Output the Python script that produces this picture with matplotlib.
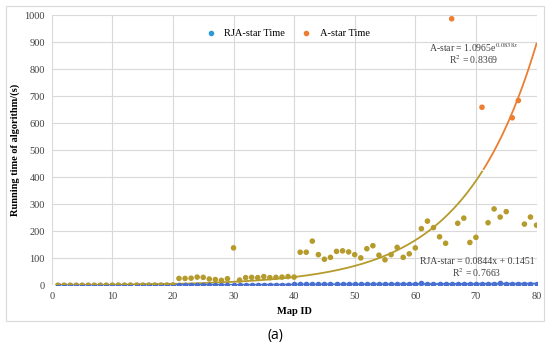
import matplotlib.pyplot as plt
from matplotlib.patches import Rectangle
import numpy as np

# Map IDs 1..80
map_id = list(range(1, 81))

# running time (s)
astar_time = [0.5, 0.6, 0.5, 0.7, 0.6, 0.8, 0.7, 0.9, 0.8, 1.0,
              1.1, 0.9, 1.2, 1.3, 1.1, 1.4, 1.5, 1.3, 1.6, 1.8,
              26, 26, 27, 31, 30, 24, 22, 19, 25, 139,
              20, 29, 30, 29, 33, 29, 30, 31, 33, 31,
              123, 123, 164, 114, 97, 104, 126, 128, 124, 114,
              102, 136, 147, 112, 95, 114, 141, 104, 117, 139,
              210, 238, 214, 180, 156, 986, 230, 249, 159, 178,
              659, 232, 283, 253, 273, 620, 684, 227, 253, 223]
rja_time = [0.3, 0.3, 0.4, 0.4, 0.5, 0.5, 0.6, 0.7, 0.7, 0.8,
            0.9, 1.0, 1.1, 1.2, 1.2, 1.3, 1.4, 1.5, 1.6, 1.7,
            1.9, 2.0, 2.1, 2.2, 2.3, 2.4, 2.5, 2.6, 2.7, 2.8,
            2.9, 3.0, 3.1, 3.2, 3.3, 3.4, 3.5, 3.5, 3.6, 3.7,
            3.8, 6.5, 4.0, 4.0, 4.1, 4.2, 4.3, 4.3, 4.4, 4.5,
            4.6, 4.7, 4.7, 4.8, 4.9, 5.0, 5.1, 5.1, 5.2, 5.3,
            9.5, 5.5, 5.6, 5.6, 5.7, 5.8, 5.9, 6.0, 6.0, 6.1,
            6.2, 6.3, 6.4, 9.0, 6.5, 6.6, 6.7, 6.8, 6.9, 7.0]

# trendline coefficients as printed on the chart
exp_a, exp_b = 1.0965, 0.0838
lin_m, lin_c = 0.0844, 0.1451

serif = "Liberation Serif"
gold = "#B59B2C"
orange = "#ED7D31"
blue = "#4A6FD0"

fig = plt.figure(figsize=(5.5, 3.49), dpi=100)
ax = fig.add_axes([0.094, 0.182, 0.8815, 0.775])

# outer chart border
fig.patches.append(Rectangle((5.7 / 550, 1 - 321 / 349), 538 / 550, 315 / 349,
                             transform=fig.transFigure, fill=False,
                             edgecolor="#D9D9D9", linewidth=0.8))

# faint highlight band around the RJA series
ax.fill_between([40, 80], -6, 14, color="#C8F4FA", alpha=0.7, zorder=1, lw=0)

xs = np.linspace(1, 80, 300)
ys = exp_a * np.exp(exp_b * xs)
split = ys <= 430
ax.plot(xs[split], ys[split], color=gold, lw=1.3, zorder=3)
ax.plot(xs[~split], ys[~split], color=orange, lw=1.3, zorder=3)
ax.plot(xs, lin_m * xs + lin_c, color=blue, lw=1.3, zorder=3)

ax.scatter(map_id, rja_time, s=9, color=blue, zorder=4)
a_cols = [orange if v > 430 else gold for v in astar_time]
ax.scatter(map_id, astar_time, s=9, color=a_cols, zorder=5)

# legend drawn with the legend's own colours
ax.scatter([], [], s=9, color="#2E9BD6", label="RJA-star Time")
ax.scatter([], [], s=9, color=orange, label="A-star Time")
ax.legend(loc="center", bbox_to_anchor=(0.481, 0.933), ncol=2, frameon=False,
          prop={"family": serif, "size": 7.5}, handletextpad=0.3,
          columnspacing=1.0, scatterpoints=1)

ax.set_xlim(0, 80)
ax.set_ylim(0, 1000)
ax.set_xticks(range(0, 81, 10))
ax.set_yticks(range(0, 1001, 100))
ax.grid(color="#D9D9D9", lw=0.8, zorder=0)
ax.set_axisbelow(True)
for s in ax.spines.values():
    s.set_visible(False)
ax.tick_params(length=0, labelsize=7.5, colors="#404040", pad=5)
for lab in ax.get_xticklabels() + ax.get_yticklabels():
    lab.set_family(serif)

ax.set_xlabel("Map ID", family=serif, fontsize=7.5, fontweight="bold", labelpad=4)
ax.set_ylabel("Running time of algorithm/(s)", family=serif, fontsize=7.5,
              fontweight="bold", labelpad=3)

fig.text(474 / 550, 1 - 48 / 349, "A-star = 1.0965e$^{0.0838x}$", ha="center",
         va="center", family=serif, fontsize=7, color="#404040",
         math_fontfamily="stix")
fig.text(474 / 550, 1 - 60 / 349, "R$^2$ = 0.8369", ha="center", va="center",
         family=serif, fontsize=7, color="#404040", math_fontfamily="stix")
fig.text(477 / 550, 1 - 262 / 349, "RJA-star = 0.0844x + 0.1451", ha="center",
         va="center", family=serif, fontsize=7, color="#404040")
fig.text(477 / 550, 1 - 273 / 349, "R$^2$ = 0.7663", ha="center", va="center",
         family=serif, fontsize=7, color="#404040", math_fontfamily="stix")

fig.text(0.5, 1 - 335 / 349, "(a)", ha="center", va="center",
         family="Open Sans", fontsize=10)

fig.savefig("out.png", dpi=100)
